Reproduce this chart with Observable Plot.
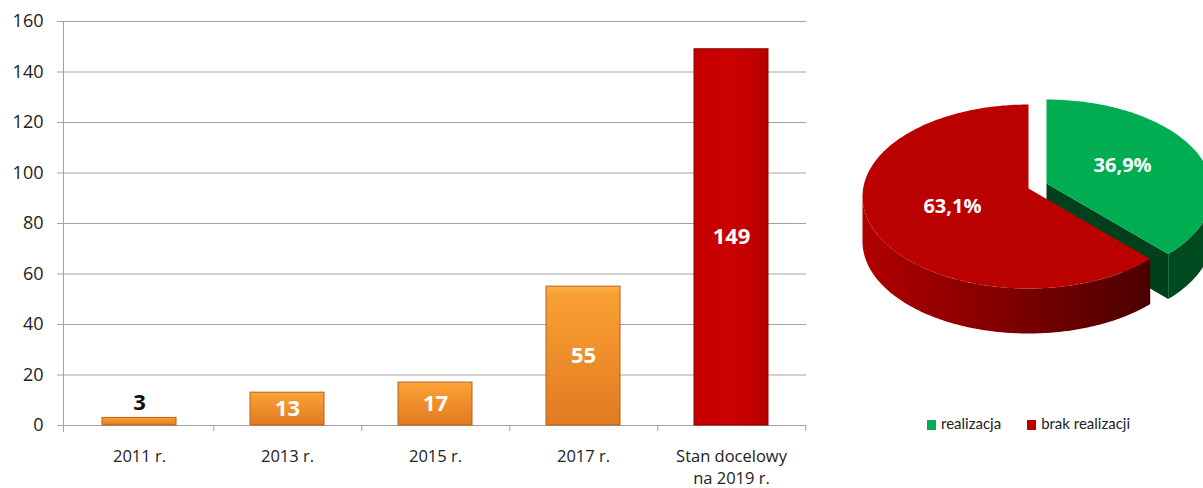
<!DOCTYPE html>
<html>
<head>
<meta charset="utf-8">
<script src="https://cdn.jsdelivr.net/npm/d3@7"></script>
<script src="https://cdn.jsdelivr.net/npm/@observablehq/plot@0.6"></script>
<style>
  html, body { margin: 0; padding: 0; background: #fff; }
  #wrap { position: relative; width: 1203px; height: 488px; overflow: hidden; font-family: "Open Sans", sans-serif; }
  #bars { position: absolute; left: 0; top: 0; }
  #pie { position: absolute; left: 820px; top: 0; }
  #legend { position: absolute; left: 927px; top: 414px; font-family: Lato, sans-serif; font-size: 15px; color: #222; display: flex; gap: 26px; }
  #legend span.sw { display: inline-block; width: 9px; height: 10px; margin-right: 5px; vertical-align: -1px; }
</style>
</head>
<body>
<div id="wrap">
  <div id="bars"></div>
  <div id="pie"></div>
  <div id="legend"></div>
</div>
<script>
// ---- data ----
const categories = ["2011 r.", "2013 r.", "2015 r.", "2017 r.", "Stan docelowy\nna 2019 r."];
const values = [3, 13, 17, 55, 149];
const barKinds = ["past", "past", "past", "past", "target"];
const yTicks = [0, 20, 40, 60, 80, 100, 120, 140, 160];

const pieLabels = ["realizacja", "brak realizacji"];
const pieShares = [36.9, 63.1];
const pieTexts = ["36,9%", "63,1%"];
const pieTopColors = ["#00ad50", "#bb0000"];

// ---- bar chart ----
const bars = categories.map((c, i) => ({cat: c, value: values[i], kind: barKinds[i]}));
const step = (806 - 63) / 5;

const barPlot = Plot.plot({
  width: 820, height: 488,
  marginLeft: 63, marginRight: 14, marginTop: 21, marginBottom: 63,
  x: {domain: categories, paddingInner: 0.5, paddingOuter: 0.25},
  y: {domain: [0, 160]},
  style: {fontFamily: "Open Sans", fontSize: "17px", color: "#222", background: "transparent", overflow: "visible"},
  marks: [
    Plot.ruleY(yTicks, {stroke: "#a3a3a3", strokeWidth: 1}),
    Plot.frame({anchor: "left", stroke: "#a3a3a3", insetBottom: -6}),
    Plot.axisY({ticks: yTicks, tickSize: 6, tickPadding: 14, label: null, stroke: "#a3a3a3", fill: "#222", fontSize: 18}),
    Plot.axisX({tickSize: 6, dx: step / 2, text: null, label: null, stroke: "#a3a3a3"}),
    Plot.axisX({tickSize: 0, tickPadding: 20, label: null, fill: "#222", lineHeight: 1.38, fontSize: 16.5}),
    Plot.barY(bars.filter(d => d.kind === "past"), {x: "cat", y: "value", fill: "url(#orangeGrad)", stroke: "#b5601a", strokeWidth: 1}),
    Plot.barY(bars.filter(d => d.kind === "target"), {x: "cat", y: "value", fill: "url(#redGrad)", stroke: "#8a0000", strokeWidth: 1}),
    Plot.text(bars.filter(d => d.value < 10), {x: "cat", y: "value", text: d => String(d.value), dy: -15, fill: "#111", fontWeight: "bold", fontSize: 22}),
    Plot.text(bars.filter(d => d.value >= 10), {x: "cat", y: d => d.value / 2, text: d => String(d.value), fill: "white", fontWeight: "bold", fontSize: 22})
  ]
});
d3.select(barPlot).insert("defs", ":first-child").html(`
  <linearGradient id="orangeGrad" x1="0" y1="0" x2="0" y2="1">
    <stop offset="0" stop-color="#fbb04a"/>
    <stop offset="0.06" stop-color="#f9a033"/>
    <stop offset="1" stop-color="#e27a22"/>
  </linearGradient>
  <linearGradient id="redGrad" x1="0" y1="0" x2="1" y2="0">
    <stop offset="0" stop-color="#c40000"/>
    <stop offset="0.5" stop-color="#cc0000"/>
    <stop offset="1" stop-color="#b80000"/>
  </linearGradient>`);
document.getElementById("bars").appendChild(barPlot);

// ---- 3D pie ----
const cx = 208, cyRim = 196, cyApex = 188, rx = 166, ry = 92, depth = 45;
const explode = [{dx: 18, dy: -5}, {dx: 0, dy: 0}];
const total = d3.sum(pieShares);
let acc = 0;
const slices = pieShares.map((v, i) => {
  const a0 = acc / total * 360; acc += v; const a1 = acc / total * 360;
  return {i, a0, a1, ...explode[i]};
});
const rim = (deg, s, extra = 0) => {
  const t = deg * Math.PI / 180;
  return {x: cx + s.dx + rx * Math.sin(t), y: cyRim + s.dy - ry * Math.cos(t) + extra};
};
const apex = (s, extra = 0) => ({x: cx + s.dx, y: cyApex + s.dy + extra});
function arcPts(s, from, to, extra = 0) {
  const pts = []; const n = Math.max(2, Math.ceil(Math.abs(to - from)));
  for (let k = 0; k <= n; k++) pts.push(rim(from + (to - from) * k / n, s, extra));
  return pts;
}
const topFace = s => [apex(s), ...arcPts(s, s.a0, s.a1), apex(s)];
function sideFace(s) {
  const from = Math.max(s.a0, 90), to = Math.min(s.a1, 270);
  if (to <= from) return [];
  return [...arcPts(s, from, to), ...arcPts(s, to, from, depth)];
}
const cutFaceEnd = s => [apex(s), rim(s.a1, s), rim(s.a1, s, depth), apex(s, depth)];

const g = slices[0], r = slices[1];
const midLabel = s => {
  const m = (s.a0 + s.a1) / 2 * Math.PI / 180;
  return {x: cx + s.dx + 0.5 * rx * Math.sin(m), y: cyApex + s.dy - 0.5 * ry * Math.cos(m), text: pieTexts[s.i]};
};

const piePlot = Plot.plot({
  width: 383, height: 488, margin: 0,
  x: {type: "identity", axis: null}, y: {type: "identity", axis: null},
  style: {background: "transparent"},
  marks: [
    Plot.line(cutFaceEnd(g), {x: "x", y: "y", fill: "#00401c", stroke: "none"}),
    Plot.line(sideFace(g), {x: "x", y: "y", fill: "#004a20", stroke: "none"}),
    Plot.line(topFace(g), {x: "x", y: "y", fill: pieTopColors[0], stroke: "none"}),
    Plot.line(sideFace(r), {x: "x", y: "y", fill: "url(#redSide)", stroke: "none"}),
    Plot.line(topFace(r), {x: "x", y: "y", fill: pieTopColors[1], stroke: "none"}),
    Plot.text([midLabel(g), midLabel(r)], {x: "x", y: "y", text: "text", fill: "white", fontWeight: "bold", fontSize: 20, fontFamily: "Open Sans"})
  ]
});
d3.select(piePlot).insert("defs", ":first-child").html(`
  <linearGradient id="redSide" x1="0" y1="0" x2="1" y2="0">
    <stop offset="0" stop-color="#b00000"/>
    <stop offset="0.5" stop-color="#800000"/>
    <stop offset="1" stop-color="#4a0000"/>
  </linearGradient>`);
document.getElementById("pie").appendChild(piePlot);

// ---- legend ----
const legend = d3.select("#legend");
pieLabels.forEach((lab, i) => {
  const item = legend.append("div");
  item.append("span").attr("class", "sw").style("background", pieTopColors[i]);
  item.append("span").text(lab);
});
</script>
</body>
</html>
